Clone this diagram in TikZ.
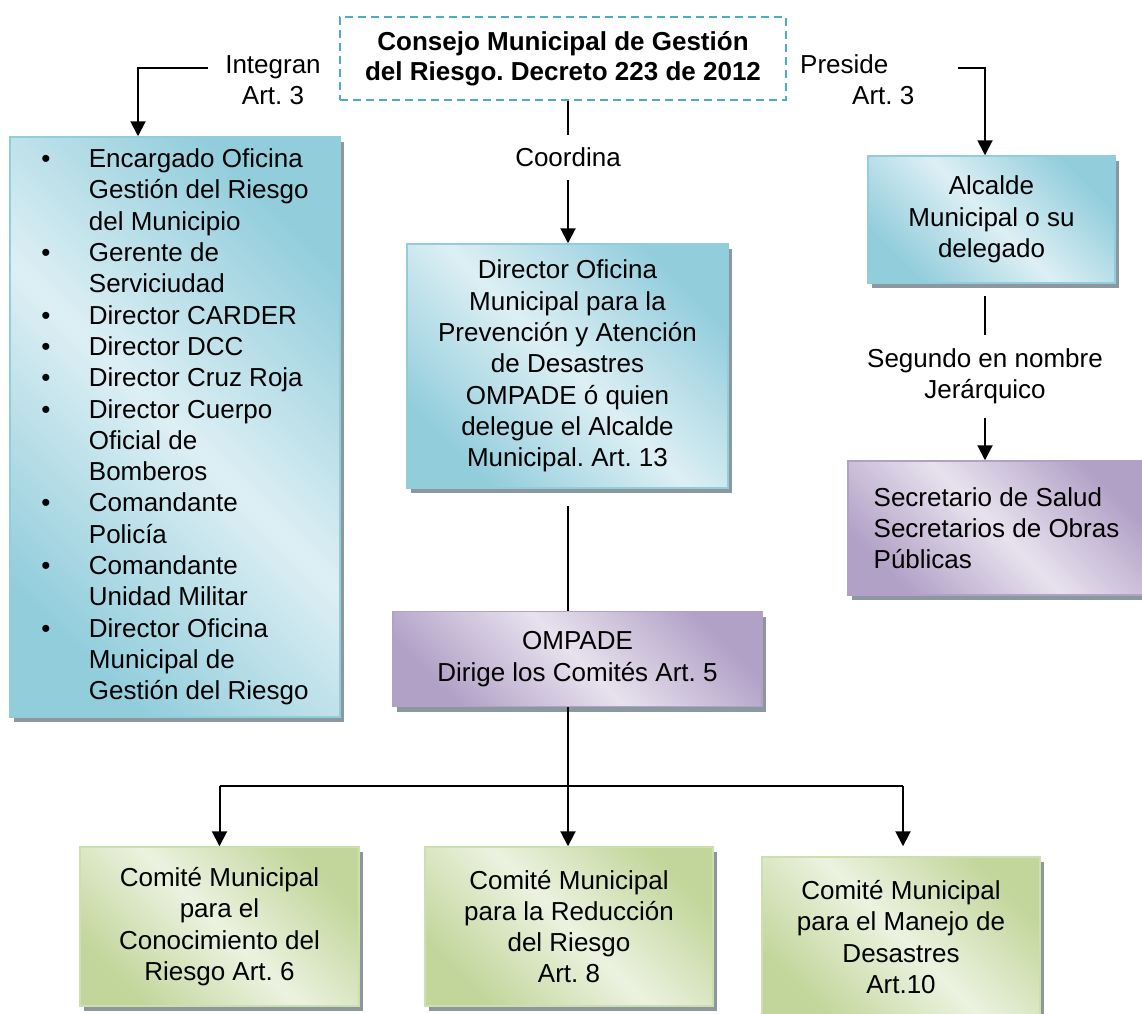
\documentclass[tikz,border=0pt]{standalone}
\usepackage{fontspec}
\setmainfont{Liberation Sans}
\usetikzlibrary{arrows.meta,shadows}
\definecolor{bdark}{RGB}{146,205,220}
\definecolor{blight}{RGB}{221,239,244}
\definecolor{pdark}{RGB}{178,161,199}
\definecolor{plight}{RGB}{231,226,238}
\definecolor{gdark}{RGB}{194,214,155}
\definecolor{glight}{RGB}{236,242,224}
\definecolor{dashc}{RGB}{75,172,198}
\definecolor{shad}{RGB}{140,152,160}
\frenchspacing
\begin{document}
\begin{tikzpicture}[x=1pt,y=-1pt,
  font=\fontsize{26}{31.3}\selectfont,
  box/.style={rectangle, inner sep=0pt, line width=1.5pt, align=center,
    drop shadow={shadow xshift=4pt,shadow yshift=-5pt,fill=shad,opacity=1}},
  bluebox/.style={box, draw=bdark, top color=bdark, bottom color=bdark, middle color=blight, shading angle=-45},
  purplebox/.style={box, draw=pdark, top color=pdark, bottom color=pdark, middle color=plight, shading angle=-45},
  greenbox/.style={box, draw=gdark!80!white, top color=gdark, bottom color=gdark, middle color=glight, shading angle=-45},
  lbl/.style={inner sep=0pt, align=center},
  arr/.style={line width=2pt, -{Triangle[length=15pt,width=15pt]}},
  ln/.style={line width=2pt}
]
\useasboundingbox (0,0) rectangle (1142,1013);

% top box
\node[draw=dashc, line width=2pt, dash pattern=on 8pt off 5pt, minimum width=446pt,
  minimum height=83pt, align=center, inner sep=0pt,
  font=\fontsize{26}{30}\selectfont\bfseries] (consejo) at (563,58.5)
  {Consejo Municipal de Gestión\\del Riesgo. Decreto 223 de 2012};

% labels
\node[lbl] (integran) at (273,80) {Integran\\Art. 3};
\node[lbl, anchor=west, align=left] (preside) at (800,80) {Preside\\\hspace*{52pt}Art. 3};
\node[lbl, minimum height=45pt] (coordina) at (568,157.5) {Coordina};
\node[lbl, minimum height=83pt] (segundo) at (985,376.5) {Segundo en nombre\\Jerárquico};

% left list
\node[bluebox, minimum width=330pt, minimum height=580pt, align=left] (lista) at (175,427)
{\makebox[47.5pt][l]{\textbullet}Encargado Oficina\\
\hspace*{47.5pt}Gestión del Riesgo\\
\hspace*{47.5pt}del Municipio\\
\makebox[47.5pt][l]{\textbullet}Gerente de\\
\hspace*{47.5pt}Serviciudad\\
\makebox[47.5pt][l]{\textbullet}Director CARDER\\
\makebox[47.5pt][l]{\textbullet}Director DCC\\
\makebox[47.5pt][l]{\textbullet}Director Cruz Roja\\
\makebox[47.5pt][l]{\textbullet}Director Cuerpo\\
\hspace*{47.5pt}Oficial de\\
\hspace*{47.5pt}Bomberos\\
\makebox[47.5pt][l]{\textbullet}Comandante\\
\hspace*{47.5pt}Policía\\
\makebox[47.5pt][l]{\textbullet}Comandante\\
\hspace*{47.5pt}Unidad Militar\\
\makebox[47.5pt][l]{\textbullet}Director Oficina\\
\hspace*{47.5pt}Municipal de\\
\hspace*{47.5pt}Gestión del Riesgo};

% center column
\node[bluebox, minimum width=321pt, minimum height=244pt] (director) at (567.5,366)
{Director Oficina\\Municipal para la\\Prevención y Atención\\de Desastres\\OMPADE ó quien\\delegue el Alcalde\\Municipal. Art. 13};
\node[purplebox, minimum width=369pt, minimum height=95pt] (ompade) at (577.5,659)
{OMPADE\\Dirige los Comités Art. 5};

% right column
\node[bluebox, minimum width=247pt, minimum height=127pt] (alcalde) at (991.5,219.5)
{Alcalde\\Municipal o su\\delegado};
\node[purplebox, minimum width=297pt, minimum height=134pt, align=left] (secret) at (996.5,528)
{Secretario de Salud\\Secretarios de Obras\\Públicas};

% committees
\node[greenbox, minimum width=279pt, minimum height=159pt] (com1) at (219.5,926.5)
{Comité Municipal\\para el\\Conocimiento del\\Riesgo Art. 6};
\node[greenbox, minimum width=288pt, minimum height=159pt] (com2) at (569,926.5)
{Comité Municipal\\para la Reducción\\del Riesgo\\Art. 8};
\node[greenbox, minimum width=278pt, minimum height=160pt] (com3) at (901,937)
{Comité Municipal\\para el Manejo de\\Desastres\\Art.10};

% connectors
\coordinate (iL) at (208,68);
\coordinate (pR) at (958,68);
\coordinate (bar) at (568,786);
\draw[arr] (iL) -| ([xshift=-37pt]lista.north);
\draw[arr] (pR) -| ([xshift=-6.5pt]alcalde.north);
\draw[ln] (consejo.south -| coordina.north) -- (coordina.north);
\draw[arr] (coordina.south) -- (director.north -| coordina.south);
\draw[ln] ([yshift=-12pt]alcalde.south -| segundo.north) -- (segundo.north);
\draw[arr] (segundo.south) -- (secret.north -| segundo.south);
\draw[ln] ([yshift=-17pt]director.south) -- (director.south |- ompade.north);
\draw[arr] (ompade.south -| bar) -- (com2.north -| bar);
\draw[ln] (com1.north |- bar) -- ([xshift=2pt]com3.north |- bar);
\draw[arr] (com1.north |- bar) -- (com1.north);
\draw[arr] ([xshift=2pt]com3.north |- bar) -- ([xshift=2pt,yshift=10pt]com3.north);
\end{tikzpicture}
\end{document}
